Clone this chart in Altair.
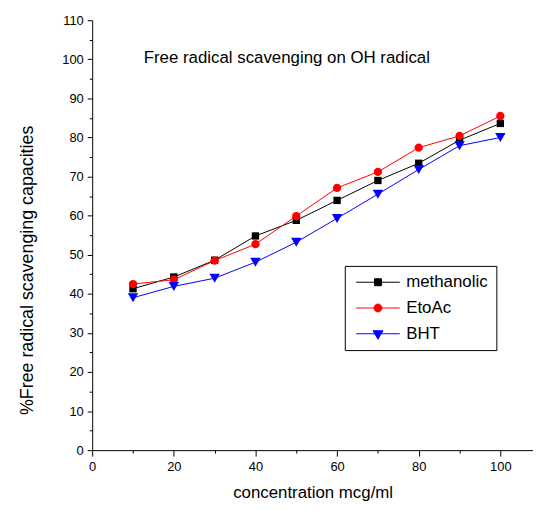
import altair as alt
import pandas as pd

concentration = [10, 20, 30, 40, 50, 60, 70, 80, 90, 100]
methanolic = [41.3, 44.3, 48.6, 54.8, 58.8, 63.9, 69.0, 73.4, 79.3, 83.6]
etoac = [42.5, 43.6, 48.5, 52.7, 59.9, 67.1, 71.2, 77.4, 80.4, 85.5]
bht = [39.0, 41.9, 44.0, 48.1, 53.2, 59.3, 65.5, 71.8, 77.9, 80.0]

series_names = ["methanolic", "EtoAc", "BHT"]
series_colors = ["#000000", "#ff0000", "#0000ff"]
series_shapes = ["square", "circle", "triangle-down"]
series_sizes = [55, 70, 110]

# legend symbols: line with marker in the middle (unit = 5 px)
legend_paths = [
    "M -1 0 L 7.8 0 M 2.7 -0.7 L 4.1 -0.7 L 4.1 0.7 L 2.7 0.7 Z",
    "M -1 0 L 7.8 0 M 2.6 0 A 0.8 0.8 0 1 0 4.2 0 A 0.8 0.8 0 1 0 2.6 0 Z",
    "M -1 0 L 7.8 0 M 2.4 -0.6 L 4.4 -0.6 L 3.4 1.1 Z",
]

rows = []
for name, vals in zip(series_names, [methanolic, etoac, bht]):
    for c, v in zip(concentration, vals):
        rows.append({"conc": c, "value": v, "series": name})
df = pd.DataFrame(rows)

FONT = "Liberation Sans"

x_enc = alt.X(
    "conc:Q",
    scale=alt.Scale(domain=[0, 108], nice=False, zero=False),
    axis=alt.Axis(
        values=list(range(0, 101, 10)),
        labelExpr="datum.value % 20 === 0 ? datum.label : ''",
        tickSize={"condition": {"test": "datum.value % 20 === 0", "value": 6}, "value": 3},
        labelFontSize=13,
        labelPadding=5,
        labelFlush=False,
        labelOverlap=False,
        title="concentration mcg/ml",
        titleFontSize=17,
        titlePadding=11,
    ),
)
y_enc = alt.Y(
    "value:Q",
    scale=alt.Scale(domain=[0, 110], nice=False, zero=False),
    axis=alt.Axis(
        values=list(range(0, 111, 5)),
        labelExpr="datum.value % 10 === 0 ? datum.label : ''",
        tickSize={"condition": {"test": "datum.value % 10 === 0", "value": 5}, "value": 3},
        labelFontSize=13,
        labelPadding=4,
        labelOverlap=False,
        title="%Free radical scavenging capacities",
        titleFontSize=18,
        titleX=-65,
        titleY=252,
        titleAngle=270,
        titleAlign="center",
        titleBaseline="middle",
    ),
)

base = alt.Chart(df)
layers = []
for name, color, shape, size in zip(series_names, series_colors, series_shapes, series_sizes):
    sub = base.transform_filter(alt.datum.series == name)
    layers.append(sub.mark_line(color=color, strokeWidth=1).encode(x=x_enc, y=y_enc))
    layers.append(
        sub.mark_point(shape=shape, filled=True, color=color, size=size, opacity=1).encode(x=x_enc, y=y_enc)
    )

leg = alt.Legend(
    title=None,
    orient="none",
    legendX=255,
    legendY=248,
    padding=8,
    strokeColor="black",
    fillColor="white",
    labelFont=FONT,
    labelFontSize=17,
    labelColor="black",
    labelOffset=37,
    symbolSize=100,
    symbolStrokeWidth=1,
    symbolOpacity=1,
    rowPadding=8,
)
legend_layer = base.transform_filter("false").mark_point(filled=True, opacity=1).encode(
    x=x_enc,
    y=y_enc,
    shape=alt.Shape("series:N", scale=alt.Scale(domain=series_names, range=legend_paths), legend=leg),
    fill=alt.Fill("series:N", scale=alt.Scale(domain=series_names, range=series_colors), legend=leg),
    stroke=alt.Stroke("series:N", scale=alt.Scale(domain=series_names, range=series_colors), legend=leg),
)

chart = (
    alt.layer(*layers, legend_layer)
    .properties(
        width=445,
        height=434,
        title=alt.TitleParams(
            "Free radical scavenging on OH radical",
            anchor="start",
            frame="group",
            dx=52,
            dy=66,
            offset=0,
            baseline="alphabetic",
            font=FONT,
            fontSize=17,
            fontWeight="normal",
            color="black",
        ),
        autosize=alt.AutoSizeParams(type="none"),
        padding={"left": 85, "top": 10, "right": 0, "bottom": 50},
        background="white",
    )
    .configure_view(stroke=None)
    .configure_axis(
        domainColor="black",
        domainWidth=1,
        tickColor="black",
        tickWidth=1,
        labelColor="black",
        titleColor="black",
        labelFont=FONT,
        titleFont=FONT,
        titleFontWeight="normal",
        grid=False,
    )
)

chart.save("out.html", embed_options={"renderer": "svg", "actions": False})
